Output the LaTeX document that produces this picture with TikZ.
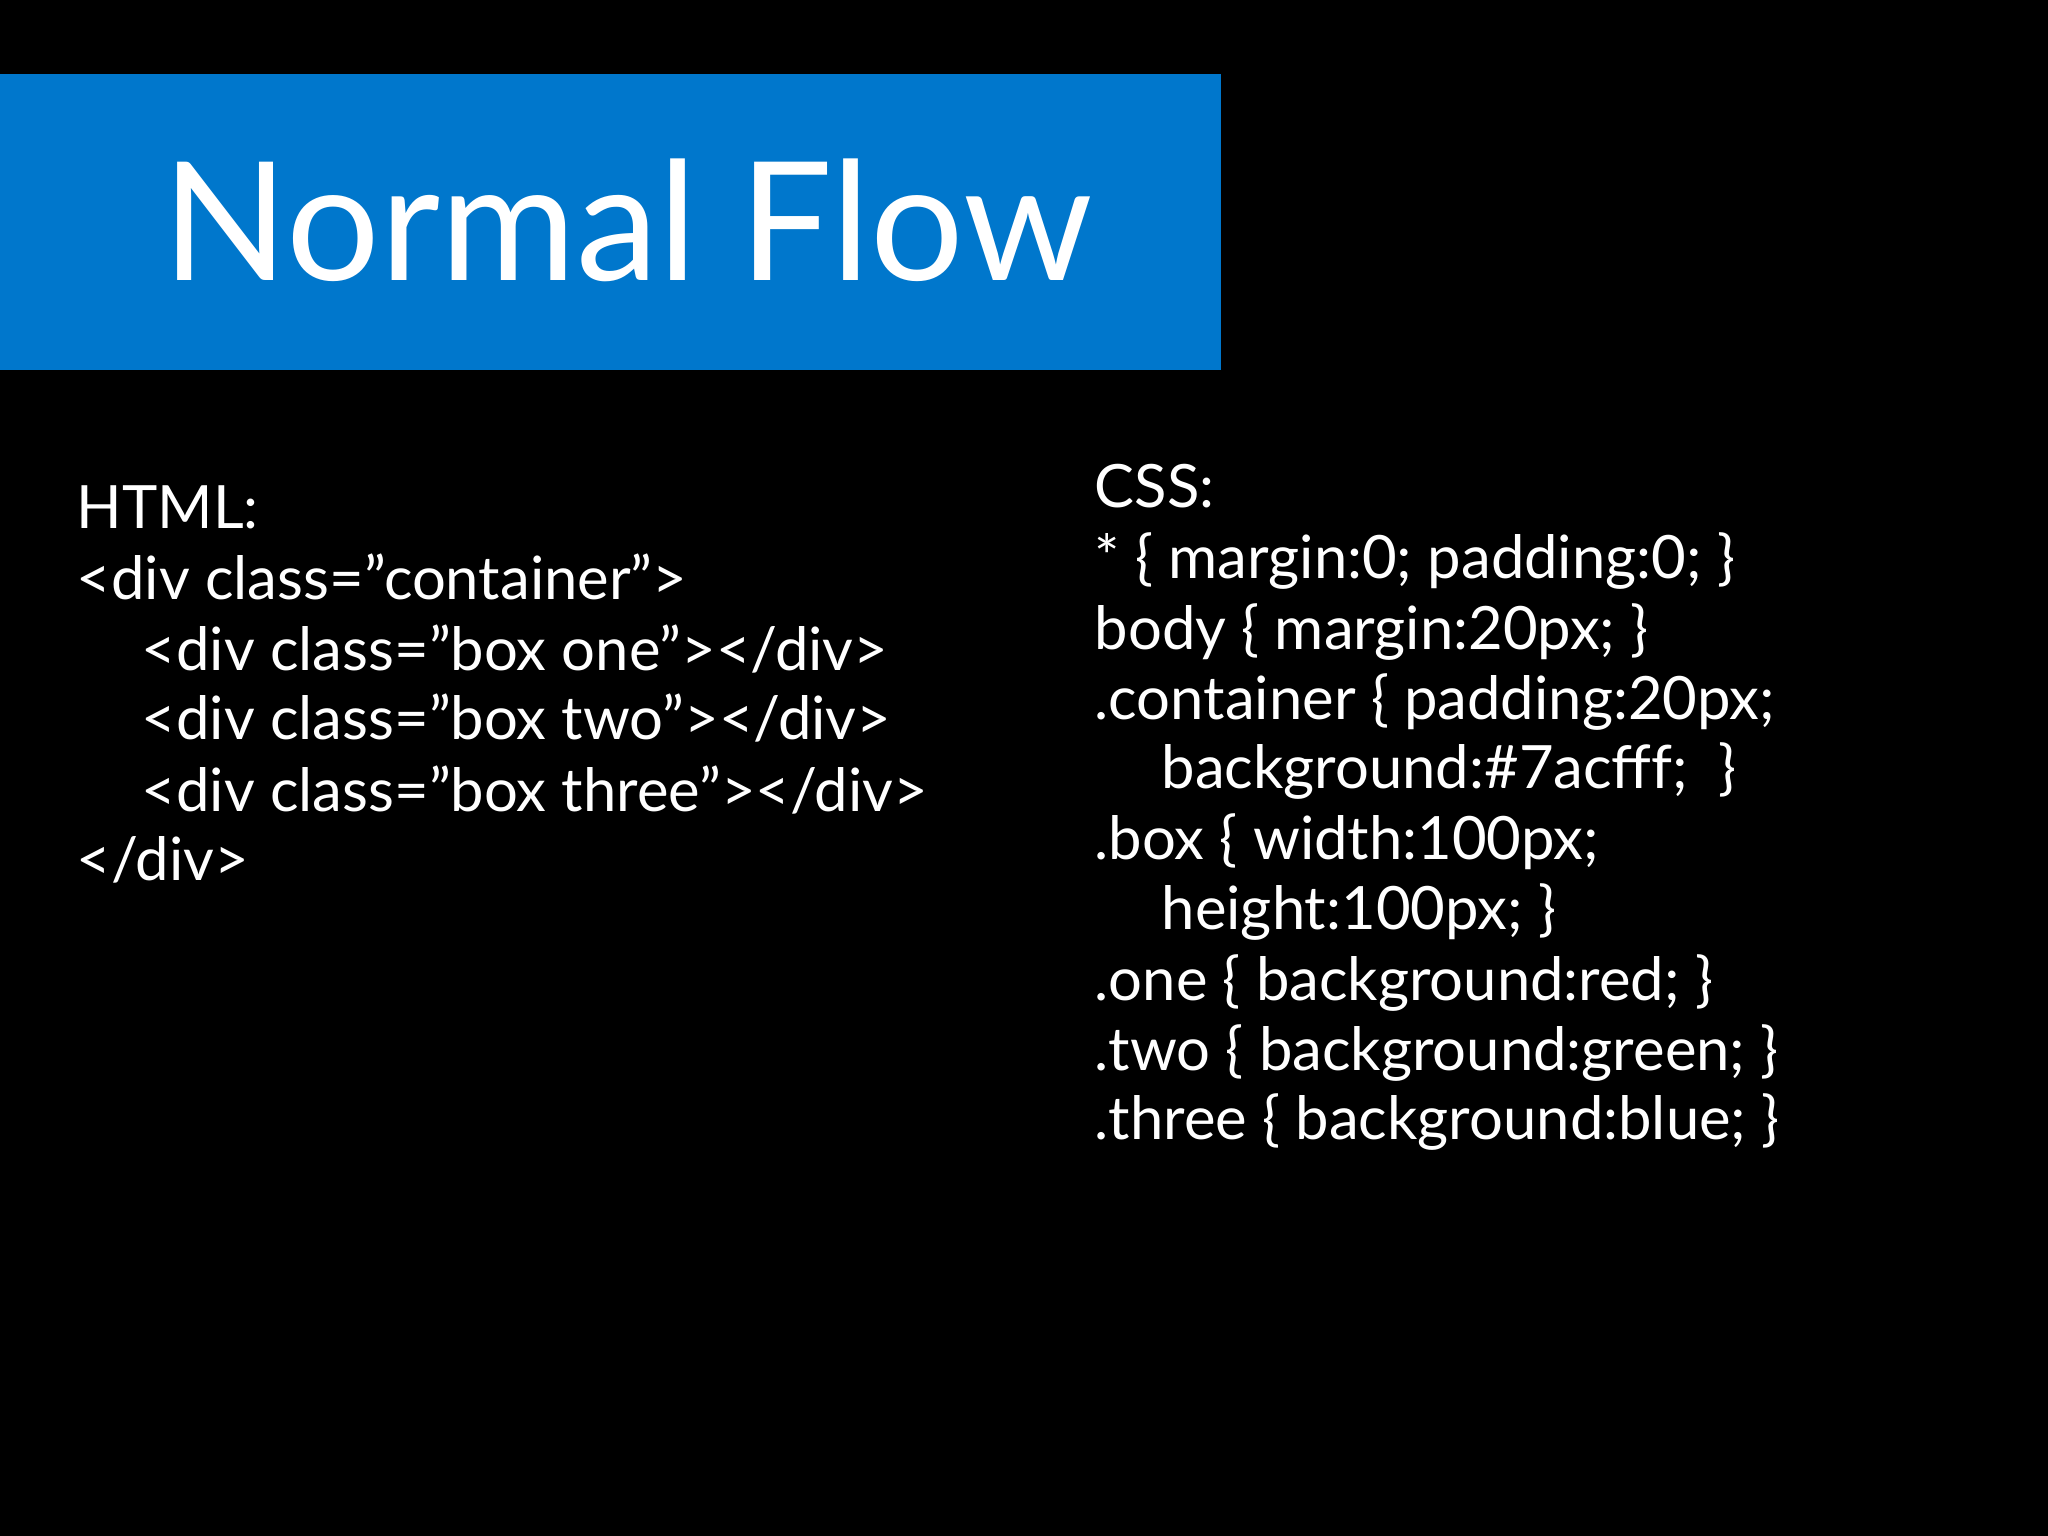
\documentclass[tikz,border=0pt]{standalone}
\usepackage{fontspec}
\setmainfont{Lato}
\definecolor{banner}{HTML}{0077CC}
\tikzset{
  code/.style={text=white, anchor=base west, inner sep=0pt, font=\fontsize{17pt}{20pt}\selectfont},
  title/.style={text=white, anchor=base west, inner sep=0pt, font=\fontsize{47pt}{56pt}\selectfont}
}
\begin{document}
\begin{tikzpicture}
  \fill[black] (0,0) rectangle (20.48,-15.36);
  \fill[banner] (0,-0.74) rectangle (12.21,-3.70);
  \node[title] (T) at (1.62,-2.81) {Normal Flow};
  % html block
  \node[code] (h1) at (0.76,-5.29) {HTML:};
  \node[code] (h2) at (0.76,-5.99) {<div class="container">};
  \node[code] (h3) at (1.41,-6.70) {<div class="box one"></div>};
  \node[code] (h4) at (1.41,-7.40) {<div class="box two"></div>};
  \node[code] (h5) at (1.41,-8.11) {<div class="box three"></div>};
  \node[code] (h6) at (0.76,-8.81) {</div>};
  % css block
  \node[code] (c1) at (10.94,-5.08) {CSS:};
  \node[code] (c2) at (10.94,-5.79) {* \{ margin:0; padding:0; \}};
  \node[code] (c3) at (10.94,-6.49) {body \{ margin:20px; \}};
  \node[code] (c4) at (10.94,-7.19) {.container \{ padding:20px;};
  \node[code] (c5) at (11.61,-7.89) {background:\#7acfff;~ \}};
  \node[code] (c6) at (10.94,-8.59) {.box \{ width:100px;};
  \node[code] (c7) at (11.61,-9.30) {height:100px; \}};
  \node[code] (c8) at (10.94,-10.00) {.one \{ background:red; \}};
  \node[code] (c9) at (10.94,-10.70) {.two \{ background:green; \}};
  \node[code] (c10) at (10.94,-11.40) {.three \{ background:blue; \}};
\end{tikzpicture}
\end{document}
